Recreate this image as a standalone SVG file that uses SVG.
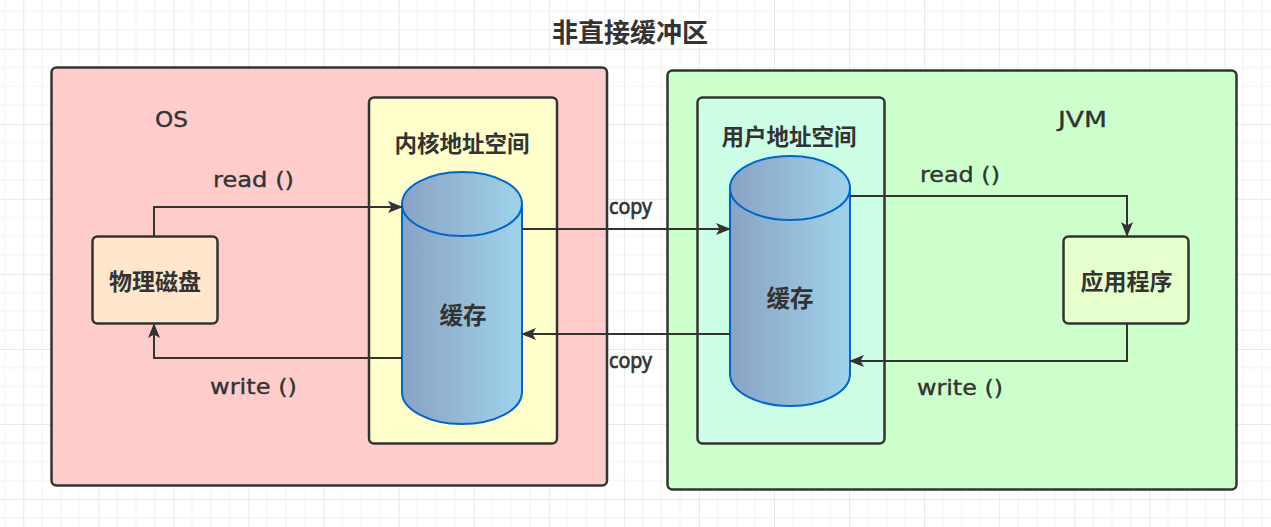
<svg xmlns="http://www.w3.org/2000/svg" width="1271" height="527" viewBox="0 0 1271 527">
  <defs>
    <pattern id="grid" patternUnits="userSpaceOnUse" x="23.3" y="48.7" width="75.07" height="75.07">
      <path d="M18.77,0V75.07M37.53,0V75.07M56.3,0V75.07M0,18.77H75.07M0,37.53H75.07M0,56.3H75.07" stroke="#f2f2f2" stroke-width="1" fill="none"/>
      <path d="M0.5,0V75.07M0,0.5H75.07" stroke="#e8e8e8" stroke-width="1" fill="none"/>
    </pattern>
    <linearGradient id="cyl" x1="0" y1="0" x2="1" y2="0">
      <stop offset="0" stop-color="#8aa2c4"/>
      <stop offset="1" stop-color="#9fd3eb"/>
    </linearGradient>
    <marker id="arr" markerUnits="userSpaceOnUse" markerWidth="16" markerHeight="14" refX="14" refY="7" orient="auto">
      <path d="M0,1 L15,7 L0,13 L3.5,7 Z" fill="#333333"/>
    </marker>
    <style>
      .box { stroke: #333333; stroke-width: 2.5; }
      .cyl { fill: url(#cyl); stroke: #0066cc; stroke-width: 2; }
      .cylrim { fill: none; stroke: #0066cc; stroke-width: 2; }
      .conn { fill: none; stroke: #333333; stroke-width: 2; marker-end: url(#arr); }
      .cjk { font-family: "Noto Sans CJK SC", "Noto Sans", sans-serif; font-weight: bold; fill: #333333; text-anchor: middle; }
      .hand { font-family: "DejaVu Sans", "Liberation Sans", sans-serif; font-size: 21px; fill: #333333; stroke: #333333; stroke-width: 0.35; }
      .copy { font-family: "Noto Sans", "Liberation Sans", sans-serif; font-size: 21px; fill: #333333; stroke: #333333; stroke-width: 0.7; }
    </style>
  </defs>

  <rect x="0" y="0" width="1271" height="527" fill="#ffffff"/>
  <rect x="0" y="0" width="1271" height="527" fill="url(#grid)"/>

  <text class="cjk" x="630" y="41.5" font-size="26">非直接缓冲区</text>

  <g id="os">
    <rect class="box" x="51.5" y="67.5" width="555.5" height="418" rx="5" fill="#ffcccc"/>
    <text class="hand" x="155" y="127" textLength="33" lengthAdjust="spacingAndGlyphs">OS</text>
  </g>

  <g id="kernel">
    <rect class="box" x="369" y="97.5" width="188" height="346" rx="5" fill="#ffffcc"/>
    <text class="cjk" x="462" y="151.5" font-size="22.5">内核地址空间</text>
  </g>

  <g id="kernel-cache">
    <path class="cyl" d="M402,204 A60,32 0 0 1 522,204 V392 A60,32 0 0 1 402,392 Z"/>
    <path class="cylrim" d="M402,204 A60,32 0 0 0 522,204"/>
    <text class="cjk" x="463" y="324" font-size="23.5">缓存</text>
  </g>

  <g id="disk">
    <rect class="box" x="92.5" y="236.5" width="125" height="87" rx="5" fill="#ffe6cc"/>
    <text class="cjk" x="155" y="289.5" font-size="23">物理磁盘</text>
  </g>

  <g id="jvm">
    <rect class="box" x="667.5" y="70.5" width="569" height="419" rx="5" fill="#ccffcc"/>
    <text class="hand" x="1058" y="127" textLength="49" lengthAdjust="spacingAndGlyphs">JVM</text>
  </g>

  <g id="user">
    <rect class="box" x="697.5" y="97.5" width="187" height="346" rx="5" fill="#ccffe6"/>
    <text class="cjk" x="789" y="144.5" font-size="22.5">用户地址空间</text>
  </g>

  <g id="user-cache">
    <path class="cyl" d="M730,188 A60,32 0 0 1 850,188 V374 A60,32 0 0 1 730,374 Z"/>
    <path class="cylrim" d="M730,188 A60,32 0 0 0 850,188"/>
    <text class="cjk" x="790" y="307" font-size="23.5">缓存</text>
  </g>

  <g id="app">
    <rect class="box" x="1063.5" y="236.5" width="125" height="87" rx="5" fill="#e6ffcc"/>
    <text class="cjk" x="1126.5" y="290" font-size="23">应用程序</text>
  </g>

  <g id="connectors">
    <path class="conn" d="M154,236 V207 H402"/>
    <path class="conn" d="M402,358 H154 V324"/>
    <path class="conn" d="M522,229 H730"/>
    <path class="conn" d="M730,334 H522"/>
    <path class="conn" d="M850,196 H1127 V236"/>
    <path class="conn" d="M1127,324 V361 H850"/>
    <text class="hand" x="213" y="187" textLength="81" lengthAdjust="spacingAndGlyphs">read ()</text>
    <text class="hand" x="210" y="394" textLength="87" lengthAdjust="spacingAndGlyphs">write ()</text>
    <text class="copy" x="609" y="214" textLength="43" lengthAdjust="spacingAndGlyphs">copy</text>
    <text class="copy" x="609" y="368" textLength="43" lengthAdjust="spacingAndGlyphs">copy</text>
    <text class="hand" x="920" y="182" textLength="80" lengthAdjust="spacingAndGlyphs">read ()</text>
    <text class="hand" x="917" y="395" textLength="86" lengthAdjust="spacingAndGlyphs">write ()</text>
  </g>
</svg>
